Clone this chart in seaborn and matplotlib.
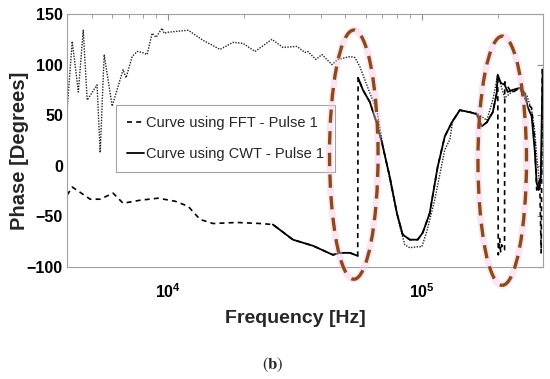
import numpy as np
import pandas as pd
import matplotlib.pyplot as plt
import seaborn as sns
from matplotlib.patches import Ellipse
from matplotlib.lines import Line2D
from matplotlib.ticker import LogLocator, NullFormatter

# upper dotted trace (no legend entry)
dotted_freq = [4000, 4190, 4430, 4630, 4800, 5250, 5400, 5600, 6020, 6650,
               6830, 7220, 7550, 7910, 8270, 8650, 8970, 9470, 9640, 10000,
               12000, 13740, 16030, 18030, 19740, 22020, 25660, 28360, 32200, 34620,
               35570, 38260, 40400, 44240, 46700, 52100, 54500, 57000, 62400, 66500,
               69600, 74800, 81900, 85700, 89700, 95600, 100000, 104600, 112400, 123200,
               129000, 132500, 141200, 154600, 164700, 180400, 190500, 199200, 212200, 226100,
               243200, 259000, 271000, 278500, 283700, 291500, 296700, 299400]
dotted_phase = [55, 123, 73, 134, 65, 80, 13, 110, 59, 95,
                87, 108, 113, 112, 110, 131, 127, 136, 131, 132,
                134, 124, 115, 122, 121, 113, 125, 117, 118, 112,
                113, 105, 110, 100, 105, 108, 107, 98, 72, 55,
                26, -14, -60, -78, -81, -80, -80, -65, -34, 16,
                26, 45, 55, 53, 52, 45, 65, 90, 67, 73,
                77, 70, 55, 35, 10, -20, -10, 60]

# FFT curve (dashed)
fft_freq = [4000, 4190, 4430, 4930, 5400, 6070, 6650, 7760, 9140, 10660,
            12000, 13370, 15040, 18700, 23020, 25880, 31060, 37230, 44650, 47560,
            52100, 55900, 56100, 58600, 62400, 66500, 70200, 74800, 79800, 84100,
            89700, 96400, 100900, 107400, 115500, 123200, 131400, 141200, 154600, 164700,
            172300, 180400, 190500, 197400, 199200, 200200, 202800, 204500, 206400, 209000,
            211900, 212300, 226100, 243200, 259000, 271000, 278500, 283700, 291500, 295500,
            298500]
fft_phase = [-29, -21, -25, -33, -33, -27, -37, -34, -32, -35,
             -40, -53, -57, -56, -57, -58, -73, -79, -88, -86,
             -86, -89, 87, 75, 63, 42, 19, -11, -47, -68,
             -73, -73, -66, -47, -1, 29, 43, 55, 53, 51,
             39, 43, 53, 72, 90, -88, -72, -85, -78, -83,
             -83, 83, 72, 77, 63, 57, 26, -24, -14, -86,
             100]

# CWT curve (solid), two pieces either side of the wrap near 56 kHz
cwt_low_freq = [25880, 31060, 37230, 44650, 47560, 52100, 55900]
cwt_low_phase = [-58, -73, -79, -88, -86, -86, -89]
cwt_high_freq = [56100, 58600, 62400, 66500, 70200, 74800, 79800, 84100, 89700, 96400,
                 100900, 107400, 115500, 123200, 131400, 141200, 154600, 164700, 172300, 180400,
                 190500, 197400, 199200, 204700, 212200, 218100, 228200, 243200, 254600, 261500,
                 271000, 278500, 283700, 288900, 294300, 299400]
cwt_high_phase = [87, 75, 63, 42, 19, -11, -47, -68, -73, -73,
                  -66, -47, -1, 29, 43, 55, 53, 51, 39, 43,
                  53, 72, 90, 82, 80, 73, 75, 77, 72, 58,
                  49, 16, -17, -24, -11, 95]

# highlighted regions (centre frequency, centre phase)
highlight_freq = [53950, 207500]
highlight_phase = [11, 5]

legend_labels = ['Curve using FFT - Pulse 1', 'Curve using CWT - Pulse 1']
y_ticks = [-100, -50, 0, 50, 100, 150]
x_ticks = [1e4, 1e5]
x_tick_labels = [r'$\mathbf{10^{4}}$', r'$\mathbf{10^{5}}$']

XLIM = (4000, 3e5)
YLIM = (-100, 150)


def draw_curves(ax):
    dotted = pd.DataFrame({'f': dotted_freq, 'phase': dotted_phase})
    fft = pd.DataFrame({'f': fft_freq, 'phase': fft_phase})
    cwt_lo = pd.DataFrame({'f': cwt_low_freq, 'phase': cwt_low_phase})
    cwt_hi = pd.DataFrame({'f': cwt_high_freq, 'phase': cwt_high_phase})

    sns.lineplot(data=dotted, x='f', y='phase', ax=ax, estimator=None, sort=False,
                 color='#222222', lw=1.0, ls=(0, (1, 1)))
    sns.lineplot(data=fft, x='f', y='phase', ax=ax, estimator=None, sort=False,
                 color='black', lw=1.2, ls=(0, (3, 2.5)))
    for d in (cwt_lo, cwt_hi):
        sns.lineplot(data=d, x='f', y='phase', ax=ax, estimator=None, sort=False,
                     color='black', lw=1.3)


def draw_highlights(ax):
    lx0, lx1 = np.log10(XLIM[0]), np.log10(XLIM[1])
    for f, ph in zip(highlight_freq, highlight_phase):
        xa = (np.log10(f) - lx0) / (lx1 - lx0)
        ya = (ph - YLIM[0]) / (YLIM[1] - YLIM[0])
        glow = Ellipse((xa, ya), 0.102, 0.985, transform=ax.transAxes, fill=False,
                       ec='#f6c8e6', lw=5, alpha=0.45, clip_on=False, zorder=4)
        ring = Ellipse((xa, ya), 0.102, 0.985, transform=ax.transAxes, fill=False,
                       ec='#8b4a17', lw=2.4, ls=(0, (4, 2.5)), clip_on=False, zorder=5)
        ax.add_patch(glow)
        ax.add_patch(ring)


def main():
    sns.set_style('white')
    plt.rcParams['font.family'] = ['Liberation Sans', 'DejaVu Sans']
    plt.rcParams['mathtext.fontset'] = 'custom'
    plt.rcParams['mathtext.rm'] = 'Liberation Sans'
    plt.rcParams['mathtext.bf'] = 'Liberation Sans:bold'

    fig = plt.figure(figsize=(5.5, 3.79), dpi=100)
    ax = fig.add_axes([0.122, 0.2955, 0.865, 0.6675])
    ax.set_xscale('log')

    draw_curves(ax)

    ax.set_xlim(*XLIM)
    ax.set_ylim(*YLIM)
    ax.set_xticks(x_ticks)
    ax.set_xticklabels(x_tick_labels, fontsize=11.5)
    ax.xaxis.set_minor_locator(LogLocator(base=10, subs=np.arange(2, 10)))
    ax.xaxis.set_minor_formatter(NullFormatter())
    ax.set_yticks(y_ticks)
    ax.set_yticklabels([str(v).replace('-', '\u2212') for v in y_ticks],
                       fontsize=11.5, fontweight='bold')

    ax.tick_params(which='both', direction='in', top=True, right=True,
                   color='#8c8c8c', labelcolor='black')
    ax.tick_params(which='major', length=4)
    ax.tick_params(which='minor', length=3)
    ax.tick_params(axis='x', pad=11)
    ax.tick_params(axis='y', pad=3)
    for s in ax.spines.values():
        s.set_color('#a0a0a0')
        s.set_linewidth(0.8)

    ax.set_xlabel('Frequency [Hz]', fontsize=14, fontweight='bold')
    ax.set_ylabel('Phase [Degrees]', fontsize=14.5, fontweight='bold')
    ax.xaxis.set_label_coords(0.48, -0.17)
    ax.yaxis.set_label_coords(-0.08, 0.46)

    handles = [Line2D([], [], color='black', lw=1.2, ls=(0, (3, 2.5))),
               Line2D([], [], color='black', lw=1.3)]
    leg = ax.legend(handles, legend_labels, loc='center left', bbox_to_anchor=(0.103, 0.508),
                    fontsize=10.5, frameon=True, fancybox=False, handlelength=1.15,
                    handletextpad=0.15, labelspacing=1.2, borderpad=0.75, borderaxespad=0)
    leg.get_frame().set_edgecolor('#8c8c8c')
    leg.get_frame().set_linewidth(0.8)
    leg.set_zorder(3)

    draw_highlights(ax)

    fig.text(0.496, 0.037, r'$(\mathbf{b})$', ha='center', va='center', fontsize=12,
             math_fontfamily='stix')

    fig.savefig('out.png', dpi=100)


if __name__ == '__main__':
    main()
